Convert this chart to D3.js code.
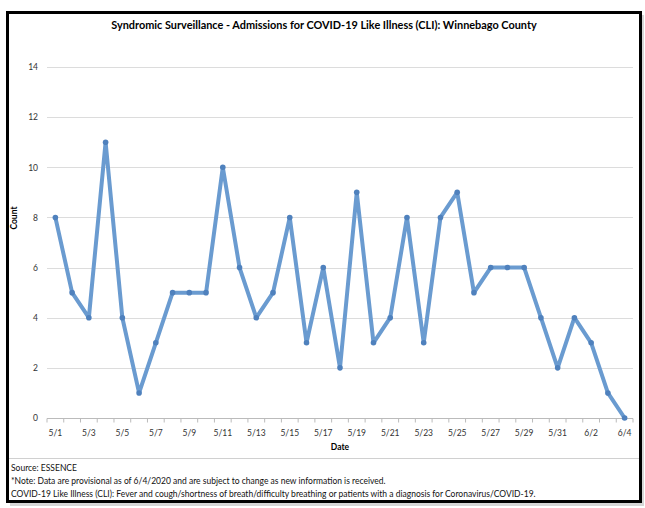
<!DOCTYPE html>
<html>
<head>
<meta charset="utf-8">
<script src="https://d3js.org/d3.v7.min.js"></script>
<style>
  body { margin: 0; background: #fff; }
  text { font-family: Lato, "Open Sans", sans-serif; }
</style>
</head>
<body>
<script>
// daily admissions, 5/1 - 6/4
var dates = ["5/1","5/2","5/3","5/4","5/5","5/6","5/7","5/8","5/9","5/10",
  "5/11","5/12","5/13","5/14","5/15","5/16","5/17","5/18","5/19","5/20",
  "5/21","5/22","5/23","5/24","5/25","5/26","5/27","5/28","5/29","5/30",
  "5/31","6/1","6/2","6/3","6/4"];
var counts = [8,5,4,11,4,1,3,5,5,5,10,6,4,5,8,3,6,2,9,3,4,8,3,8,9,5,6,6,6,4,2,4,3,1,0];
var yTicks = [0,2,4,6,8,10,12,14];

var title = "Syndromic Surveillance - Admissions for COVID-19 Like Illness (CLI): Winnebago County";
var notes = ["Source: ESSENCE",
  "*Note: Data are provisional as of 6/4/2020 and are subject to change as new information is received.",
  "COVID-19 Like Illness (CLI): Fever and cough/shortness of breath/difficulty breathing or patients with a diagnosis for Coronavirus/COVID-19."];

var W = 645, H = 508;
var svg = d3.select("body").append("svg")
    .attr("width", W)
    .attr("height", H);

// shadow + frame
svg.append("rect")
    .attr("x", 10).attr("y", 15).attr("width", 634).attr("height", 491)
    .attr("fill", "#bbb").attr("opacity", 0.6);
svg.append("rect")
    .attr("x", 7.5).attr("y", 12.5).attr("width", 633).attr("height", 489)
    .attr("fill", "#fff").attr("stroke", "#000").attr("stroke-width", 3);

svg.append("line")
    .attr("x1", 9).attr("x2", 639).attr("y1", 458.5).attr("y2", 458.5)
    .attr("stroke", "#d0d0d0").attr("stroke-width", 1);

svg.append("text")
    .attr("x", 324).attr("y", 29)
    .attr("text-anchor", "middle")
    .style("font-size", "10.9px").style("font-weight", "bold")
    .text(title);

var x = d3.scaleBand()
    .domain(dates)
    .range([47, 633]);

var y = d3.scaleLinear()
    .domain([0, 14])
    .range([418, 67]);

// gridlines
svg.append("g")
  .selectAll("line")
  .data(yTicks.slice(1))
  .enter().append("line")
    .attr("x1", 47).attr("x2", 633)
    .attr("y1", function(d) { return Math.round(y(d)) + 0.5 })
    .attr("y2", function(d) { return Math.round(y(d)) + 0.5 })
    .attr("stroke", "#dcdcdc");

var yAxis = svg.append("g")
    .attr("transform", "translate(47,0)")
    .call(d3.axisLeft(y).tickValues(yTicks).tickSize(0).tickPadding(9));
yAxis.select(".domain").remove();
yAxis.selectAll("text").style("font-size", "8.5px").attr("fill", "#333");

// x axis with ticks between categories
var xg = svg.append("g").attr("transform", "translate(0," + (Math.round(y(0)) + 0.5) + ")");
xg.append("line").attr("x1", 47).attr("x2", 633).attr("stroke", "#bbb");
xg.selectAll(".tk")
  .data(dates.concat(["end"]))
  .enter().append("line")
    .attr("x1", function(d, i) { return i < dates.length ? x(d) : x.range()[1] })
    .attr("x2", function(d, i) { return i < dates.length ? x(d) : x.range()[1] })
    .attr("y1", 0).attr("y2", 4)
    .attr("stroke", "#bbb");
xg.selectAll(".lbl")
  .data(dates.filter(function(d, i) { return i % 2 == 0 }))
  .enter().append("text")
    .attr("x", function(d) { return x(d) + x.bandwidth() / 2 })
    .attr("y", 17)
    .attr("text-anchor", "middle")
    .style("font-size", "8.5px").attr("fill", "#333")
    .text(function(d) { return d });

svg.append("text")
    .attr("x", 340).attr("y", 450)
    .attr("text-anchor", "middle")
    .style("font-size", "8.5px").style("font-weight", "bold")
    .text("Date");

svg.append("text")
    .attr("transform", "translate(17,218) rotate(-90)")
    .attr("text-anchor", "middle")
    .style("font-size", "8.5px").style("font-weight", "bold")
    .text("Count");

var line = d3.line()
    .x(function(d, i) { return x(dates[i]) + x.bandwidth() / 2 })
    .y(function(d) { return y(d) });

svg.append("path")
    .datum(counts)
    .attr("fill", "none")
    .attr("stroke", "#6a9bd0")
    .attr("stroke-width", 4)
    .attr("stroke-linejoin", "round")
    .attr("d", line);

svg.selectAll(".pt")
  .data(counts)
  .enter().append("circle")
    .attr("cx", function(d, i) { return x(dates[i]) + x.bandwidth() / 2 })
    .attr("cy", function(d) { return y(d) })
    .attr("r", 2.8)
    .attr("fill", "#4f81bd");

svg.selectAll(".note")
  .data(notes)
  .enter().append("text")
    .attr("x", 11)
    .attr("y", function(d, i) { return 471 + i * 13 })
    .style("font-size", "8.5px").attr("fill", "#111")
    .text(function(d) { return d });
</script>
</body>
</html>
